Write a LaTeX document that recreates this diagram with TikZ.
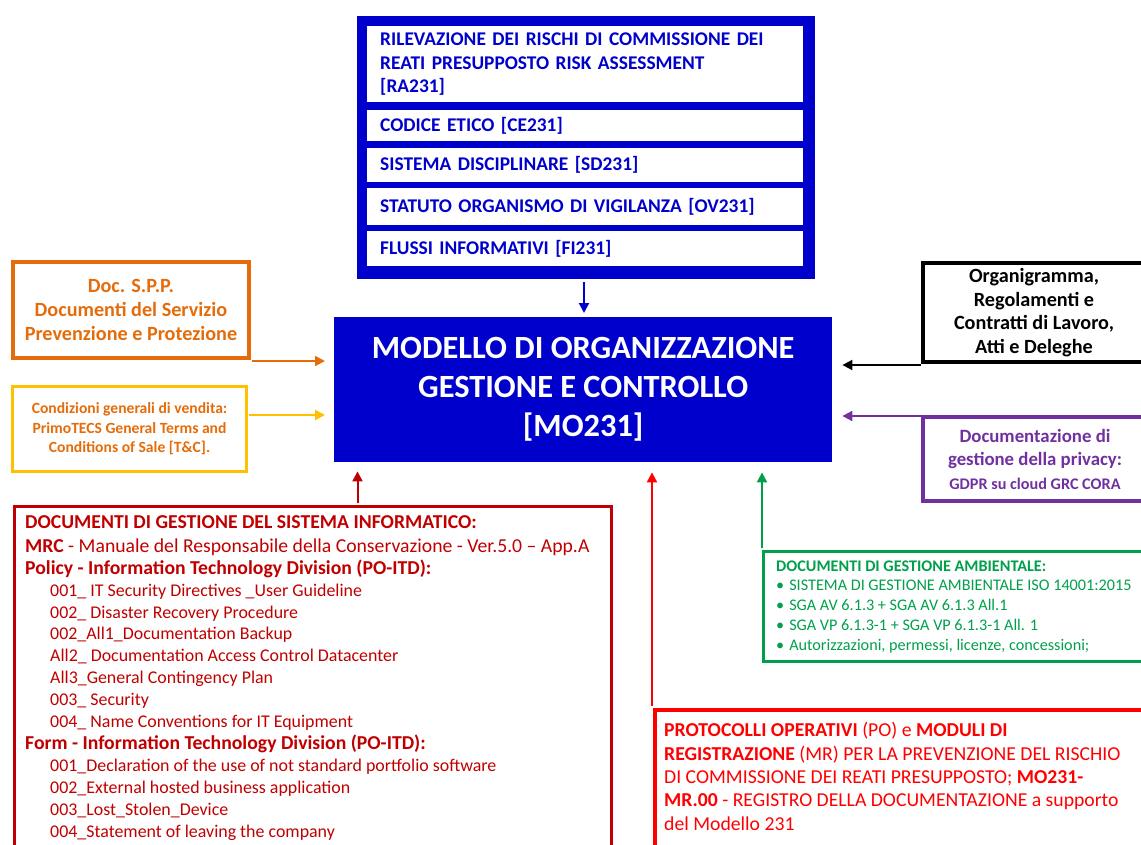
\documentclass[tikz,border=0pt]{standalone}
\usepackage{fontspec}
\setmainfont{Carlito}
\usetikzlibrary{arrows.meta}
\definecolor{mblue}{HTML}{0000CC}
\definecolor{morange}{HTML}{E46C0A}
\definecolor{myellow}{HTML}{FFC000}
\definecolor{mpurple}{HTML}{7030A0}
\definecolor{mdred}{HTML}{C00000}
\definecolor{mgreen}{HTML}{00A04A}
\definecolor{mred}{HTML}{FF0000}
\newcommand{\fsTop}{\fontsize{19.4}{23.5}\selectfont}
\newcommand{\fsMain}{\fontsize{32.4}{39}\selectfont}
\newcommand{\fsSide}{\fontsize{20.2}{23.6}\selectfont}
\newcommand{\fsPriv}{\fontsize{18.8}{23.5}\selectfont}
\newcommand{\fsGdpr}{\fontsize{16.2}{20}\selectfont}
\newcommand{\fsSmall}{\fontsize{15.6}{19.5}\selectfont}
\newcommand{\fsIT}{\fontsize{19.7}{21.9}\selectfont}
\newcommand{\fsITi}{\fontsize{17.9}{21.9}\selectfont}
\newcommand{\fsGr}{\fontsize{16.2}{19.7}\selectfont}
\newcommand{\fsPr}{\fontsize{19.7}{23.3}\selectfont}
\newcommand{\itm}{\fsITi\hspace*{25pt}}
\tikzset{
  conn/.style={-{Triangle[length=10pt,width=10pt]}, line width=2pt},
  topitem/.style={fill=white, anchor=north west, text width=410pt, align=left,
    inner xsep=13pt, inner ysep=0pt, text=mblue, font=\fsTop\bfseries},
  sidebox/.style={draw, line width=4pt, align=center, inner sep=0pt},
  textblock/.style={anchor=base west, align=left, inner sep=0pt},
}
\begin{document}
\begin{tikzpicture}[x=1pt,y=-1pt]
\useasboundingbox (0,0) rectangle (1141,844);
\clip (0,0) rectangle (1141,844);
% top container
\node[fill=mblue, minimum width=458pt, minimum height=263pt, inner sep=0pt, anchor=north west] (cont) at (357,16) {};
\node[topitem, minimum height=76pt] (ra) at (367,26) {RILEVAZIONE DEI RISCHI DI COMMISSIONE DEI\\REATI PRESUPPOSTO RISK ASSESSMENT\\{[RA231]}};
\node[topitem, minimum height=31pt] (ce) at (367,110) {CODICE ETICO [CE231]};
\node[topitem, minimum height=34pt] (sd) at (367,148) {SISTEMA DISCIPLINARE [SD231]};
\node[topitem, minimum height=37pt] (ov) at (367,188) {STATUTO ORGANISMO DI VIGILANZA [OV231]};
\node[topitem, minimum height=35pt] (fi) at (367,231) {FLUSSI INFORMATIVI [FI231]};
% main box
\node[fill=mblue, text=white, font=\fsMain\bfseries, align=center, minimum width=498pt, minimum height=145pt, inner sep=0pt, anchor=north west] (mo) at (334,317) {MODELLO DI ORGANIZZAZIONE\\GESTIONE E CONTROLLO\\{[MO231]}};
% left boxes
\node[sidebox, draw=morange, text=morange, font=\fsSide\bfseries, minimum width=236pt, minimum height=96pt] (spp) at (131,310) {Doc. S.P.P.\\Documenti del Servizio\\Prevenzione e Protezione};
\node[sidebox, draw=myellow, line width=3.5pt, text=morange, font=\fsSmall\bfseries, minimum width=234pt, minimum height=85pt] (tc) at (129.5,429) {Condizioni generali di vendita:\\PrimoTECS General Terms and\\Conditions of Sale [T\&C].};
% right boxes
\node[sidebox, draw=black, text=black, font=\fsSide\bfseries, minimum width=222pt, minimum height=99pt] (org) at (1034,312.5) {Organigramma,\\Regolamenti e\\Contratti di Lavoro,\\Atti e Deleghe};
\node[sidebox, draw=mpurple, text=mpurple, font=\fsPriv\bfseries, minimum width=224pt, minimum height=84pt] (priv) at (1035,459) {Documentazione di\\gestione della privacy:\\{\fsGdpr GDPR su cloud GRC CORA}};
% IT box
\node[draw=mdred, line width=3pt, minimum width=597pt, minimum height=400pt, inner sep=0pt, anchor=north west] (it) at (12.5,504.5) {};
\node[textblock, text=mdred, font=\fsIT] (itT) at (25,837) {%
{\bfseries DOCUMENTI DI GESTIONE DEL SISTEMA INFORMATICO:}\\[2pt]
\textbf{MRC} - Manuale del Responsabile della Conservazione - Ver.5.0 – App.A\\
{\bfseries Policy - Information Technology Division (PO-ITD):}\\
{\itm 001\_ IT Security Directives \_User Guideline}\\
{\itm 002\_ Disaster Recovery Procedure}\\
{\itm 002\_All1\_Documentation Backup}\\
{\itm All2\_ Documentation Access Control Datacenter}\\
{\itm All3\_General Contingency Plan}\\
{\itm 003\_ Security}\\
{\itm 004\_ Name Conventions for IT Equipment}\\
{\bfseries Form - Information Technology Division (PO-ITD):}\\
{\itm 001\_Declaration of the use of not standard portfolio software}\\
{\itm 002\_External hosted business application}\\
{\itm 003\_Lost\_Stolen\_Device}\\
{\itm 004\_Statement of leaving the company}};
% green box
\node[draw=mgreen, line width=3pt, minimum width=400pt, minimum height=110pt, inner sep=0pt, anchor=north west] (amb) at (761.5,549.5) {};
\node[textblock, text=mgreen, font=\fsGr] (ambT) at (776,650) {%
{\bfseries DOCUMENTI DI GESTIONE AMBIENTALE:}\\
\textbullet\hspace{5pt}SISTEMA DI GESTIONE AMBIENTALE ISO 14001:2015\\
\textbullet\hspace{5pt}SGA AV 6.1.3 + SGA AV 6.1.3 All.1\\
\textbullet\hspace{5pt}SGA VP 6.1.3-1 + SGA VP 6.1.3-1 All. 1\\
\textbullet\hspace{5pt}Autorizzazioni, permessi, licenze, concessioni;};
% red box
\node[draw=mred, line width=4pt, minimum width=520pt, minimum height=200pt, inner sep=0pt, anchor=north west] (prot) at (653,708) {};
\node[textblock, text=mred, font=\fsPr] (protT) at (664,830) {%
\textbf{PROTOCOLLI OPERATIVI} (PO) e \textbf{MODULI DI}\\
\textbf{REGISTRAZIONE} (MR) PER LA PREVENZIONE DEL RISCHIO\\
DI COMMISSIONE DEI REATI PRESUPPOSTO; \textbf{MO231-}\\
\textbf{MR.00} - REGISTRO DELLA DOCUMENTAZIONE a supporto\\
del Modello 231};
% connector end points
\coordinate (b0) at (584,282);
\coordinate (a1) at (252,361);
\coordinate (a2) at (249,415);
\coordinate (a3) at (921,365);
\coordinate (a4) at (921,416);
\coordinate (a5) at (357.5,503);
\coordinate (a6) at (652,706);
\coordinate (a7) at (762,548);
% connectors
\draw[conn, mblue, shorten >=4pt] (b0) -- (b0 |- mo.north);
\draw[conn, morange, shorten >=9pt] (a1) -- (a1 -| mo.west);
\draw[conn, myellow, shorten >=9pt] (a2) -- (a2 -| mo.west);
\draw[conn, black, shorten >=10pt] (a3) -- (a3 -| mo.east);
\draw[conn, mpurple, shorten >=10pt] (a4) -- (a4 -| mo.east);
\draw[conn, mdred, shorten >=9pt] (a5) -- (a5 |- mo.south);
\draw[conn, mred, shorten >=10pt] (a6) -- (a6 |- mo.south);
\draw[conn, mgreen, shorten >=10pt] (a7) -- (a7 |- mo.south);
\end{tikzpicture}
\end{document}
